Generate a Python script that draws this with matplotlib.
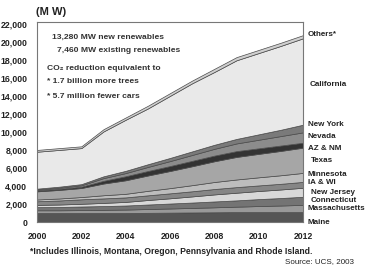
import matplotlib
matplotlib.use("Agg")
import matplotlib.pyplot as plt
import numpy as np

plt.rcParams['font.family'] = ['Liberation Sans', 'DejaVu Sans']

years = [2000, 2001, 2002, 2003, 2004, 2005, 2006, 2007, 2008, 2009, 2010, 2011, 2012]

# MW installed by state (stack order bottom -> top)
maine         = [1000, 1000, 1000, 1000, 1000, 1020, 1040, 1060, 1080, 1100, 1100, 1100, 1100]
massachusetts = [300, 300, 320, 350, 380, 420, 460, 500, 550, 600, 670, 730, 800]
connecticut   = [350, 370, 400, 420, 450, 500, 550, 600, 650, 700, 770, 830, 900]
new_jersey    = [250, 270, 300, 350, 400, 500, 580, 680, 780, 850, 900, 950, 1000]
ia_wi         = [400, 450, 500, 500, 500, 520, 550, 570, 600, 620, 620, 630, 650]
minnesota     = [200, 220, 250, 350, 400, 500, 580, 680, 780, 850, 900, 950, 1000]
texas         = [900, 950, 1000, 1300, 1500, 1700, 1900, 2100, 2300, 2500, 2600, 2700, 2800]
az_nm         = [100, 120, 150, 300, 450, 500, 550, 600, 630, 650, 620, 600, 550]
nevada        = [100, 120, 150, 300, 350, 450, 550, 650, 750, 850, 950, 1050, 1150]
new_york      = [100, 120, 130, 200, 250, 300, 350, 400, 450, 500, 600, 700, 850]
california    = [4100, 4080, 4000, 4980, 5670, 6190, 6890, 7560, 8080, 8730, 9020, 9310, 9590]
others        = [200, 200, 200, 250, 250, 300, 300, 300, 350, 350, 350, 350, 350]

series = [maine, massachusetts, connecticut, new_jersey, ia_wi, minnesota,
          texas, az_nm, nevada, new_york, california, others]
labels = ["Maine", "Massachusetts", "Connecticut", "New Jersey", "IA & WI",
          "Minnesota", "Texas", "AZ & NM", "Nevada", "New York", "California", "Others*"]
colors = ["#555555", "#999999", "#747474", "#d8d8d8", "#868686", "#bdbdbd",
          "#a6a6a6", "#333333", "#8c8c8c", "#7a7a7a", "#e9e9e9", "#cfcfcf"]

xticks = [2000, 2002, 2004, 2006, 2008, 2010, 2012]
yticks = list(range(0, 22001, 2000))

fig = plt.figure(figsize=(3.72, 2.67), dpi=100)
ax = fig.add_axes([37/372, 1-222/267, (303-37)/372, 200/267])

polys = ax.stackplot(years, *series, colors=colors, edgecolor="#4a4a4a", linewidth=0.5)

ax.set_xlim(2000, 2012)
ax.set_ylim(0, 22200)
ax.set_xticks(xticks)
ax.set_yticks(yticks)
ax.set_xticklabels([str(x) for x in xticks], fontsize=6.2, fontweight='bold', color="#222222")
ax.set_yticklabels([f"{y:,}" for y in yticks], fontsize=6.3, fontweight='bold', color="#222222")
ax.tick_params(axis='y', length=0, pad=7)
ax.tick_params(axis='x', length=0, pad=7)
for s in ax.spines.values():
    s.set_color("#777777")
    s.set_linewidth(0.8)

# right-side labels
label_y = [223, 209, 200, 193, 183, 175, 161, 148, 137, 125, 85, 35]
label_x = [308, 308, 311, 311, 308, 308, 311, 308, 308, 308, 310, 308]
for lab, lx, ly in zip(labels, label_x, label_y):
    fig.text(lx/372, 1-ly/267, lab, fontsize=5.8, fontweight='bold',
             color="#222222", va='center', ha='left')

fig.text(36/372, 1-12/267, "(M W)", fontsize=8, fontweight='bold', color="#222222",
         va='center', ha='left')

fig.text(52/372, 1-37/267, "13,280 MW new renewables", fontsize=6.1, fontweight='bold',
         color="#333333", va='center')
fig.text(57/372, 1-51/267, "7,460 MW existing renewables", fontsize=6.1, fontweight='bold',
         color="#333333", va='center')
fig.text(47/372, 1-68/267, "CO₂ reduction equivalent to", fontsize=6.1, fontweight='bold',
         color="#333333", va='center')
fig.text(47/372, 1-81/267, "* 1.7 billion more trees", fontsize=6.1, fontweight='bold',
         color="#333333", va='center')
fig.text(47/372, 1-97/267, "* 5.7 million fewer cars", fontsize=6.1, fontweight='bold',
         color="#333333", va='center')

fig.text(30/372, 1-251/267, "*Includes Illinois, Montana, Oregon, Pennsylvania and Rhode Island.",
         fontsize=6.2, fontweight='bold', color="#222222", va='center')
fig.text(285/372, 1-262/267, "Source: UCS, 2003", fontsize=5.8, color="#222222", va='center')

fig.savefig("out.png", dpi=100)
